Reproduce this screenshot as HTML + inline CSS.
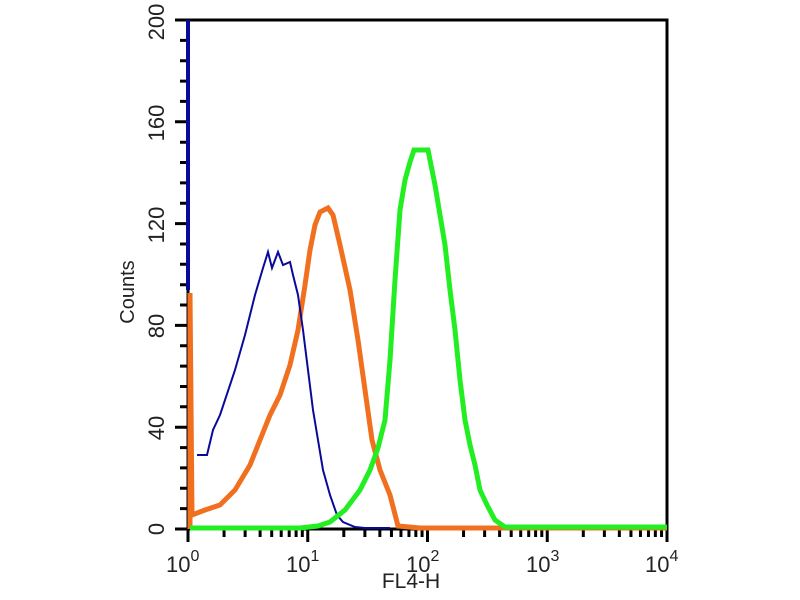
<!DOCTYPE html>
<html><head><style>body{margin:0;background:#fff}svg{display:block}</style></head><body>
<svg width="800" height="600" xmlns="http://www.w3.org/2000/svg" xmlns:xlink="http://www.w3.org/1999/xlink" font-family="Liberation Sans, sans-serif">
<rect width="800" height="600" fill="#fff"/>
<defs>
<g id="dec" stroke="#000" stroke-width="3">
<line x1="0" y1="529" x2="0" y2="542"/>
<line x1="36.05" y1="529" x2="36.05" y2="537"/>
<line x1="57.13" y1="529" x2="57.13" y2="537"/>
<line x1="72.1" y1="529" x2="72.1" y2="537"/>
<line x1="83.7" y1="529" x2="83.7" y2="537"/>
<line x1="93.2" y1="529" x2="93.2" y2="537"/>
<line x1="101.2" y1="529" x2="101.2" y2="537"/>
<line x1="108.1" y1="529" x2="108.1" y2="537"/>
<line x1="114.3" y1="529" x2="114.3" y2="537"/>
</g>
</defs>
<use xlink:href="#dec" x="188"/>
<use xlink:href="#dec" x="307.75"/>
<use xlink:href="#dec" x="427.5"/>
<use xlink:href="#dec" x="547.25"/>
<line x1="667" y1="529" x2="667" y2="542" stroke="#000" stroke-width="3"/>
<path stroke="#000" stroke-width="3" d="M175 529H188M175 427.2H188M175 325.4H188M175 223.6H188M175 121.8H188M175 20H188
M180 508.6H188M180 488.3H188M180 467.9H188M180 447.6H188
M180 406.8H188M180 386.5H188M180 366.1H188M180 345.8H188
M180 305H188M180 284.7H188M180 264.3H188M180 244H188
M180 203.2H188M180 182.9H188M180 162.5H188M180 142.2H188
M180 101.4H188M180 81.1H188M180 60.7H188M180 40.4H188"/>
<rect x="188" y="20" width="479" height="509" fill="none" stroke="#000" stroke-width="3"/>
<g font-size="22" fill="#222">
<text transform="translate(164,529) rotate(-90)" text-anchor="middle">0</text>
<text transform="translate(164,428) rotate(-90)" text-anchor="middle">40</text>
<text transform="translate(164,326) rotate(-90)" text-anchor="middle">80</text>
<text transform="translate(164,225) rotate(-90)" text-anchor="middle">120</text>
<text transform="translate(164,123) rotate(-90)" text-anchor="middle">160</text>
<text transform="translate(164,22) rotate(-90)" text-anchor="middle">200</text>
<text transform="translate(134,292) rotate(-90)" text-anchor="middle" font-size="20">Counts</text>
<text x="411" y="588" font-size="21" text-anchor="middle">FL4-H</text>
<text x="166" y="572">10<tspan font-size="16" dy="-11">0</tspan></text>
<text x="286" y="572">10<tspan font-size="16" dy="-11">1</tspan></text>
<text x="406" y="572">10<tspan font-size="16" dy="-11">2</tspan></text>
<text x="526" y="572">10<tspan font-size="16" dy="-11">3</tspan></text>
<text x="645" y="572">10<tspan font-size="16" dy="-11">4</tspan></text>
</g>
<line x1="188" y1="20" x2="188" y2="290" stroke="#0a0a9a" stroke-width="4"/>
<polyline fill="none" stroke="#f07020" stroke-width="5" points="190,529 190,293 192,515 205,510 220,505 235,490 250,465 260,440 270,415 280,395 290,365 298,330 305,285 310,250 315,225 320,212 328,208 333,215 340,245 350,290 358,340 365,390 372,440 380,470 390,495 398,526 420,528 667,528"/>
<polyline fill="none" stroke="#0a0a9a" stroke-width="2" points="197,455 207,455 213,430 220,415 235,370 245,335 255,295 263,268 268,252 272,268 278,252 283,265 290,262 293,275 298,295 303,330 308,370 313,410 318,440 323,470 330,495 337,515 343,522 355,527 365,528 390,528"/>
<polyline fill="none" stroke="#22ee22" stroke-width="5" points="190,528 300,528 318,526 330,522 345,510 360,490 370,470 378,448 385,420 390,360 395,280 400,210 405,180 410,162 414,150 428,150 430,160 435,185 440,215 445,245 450,290 455,330 460,380 465,420 470,445 475,465 480,490 487,505 495,520 505,527 667,527"/>
</svg>
</body></html>
